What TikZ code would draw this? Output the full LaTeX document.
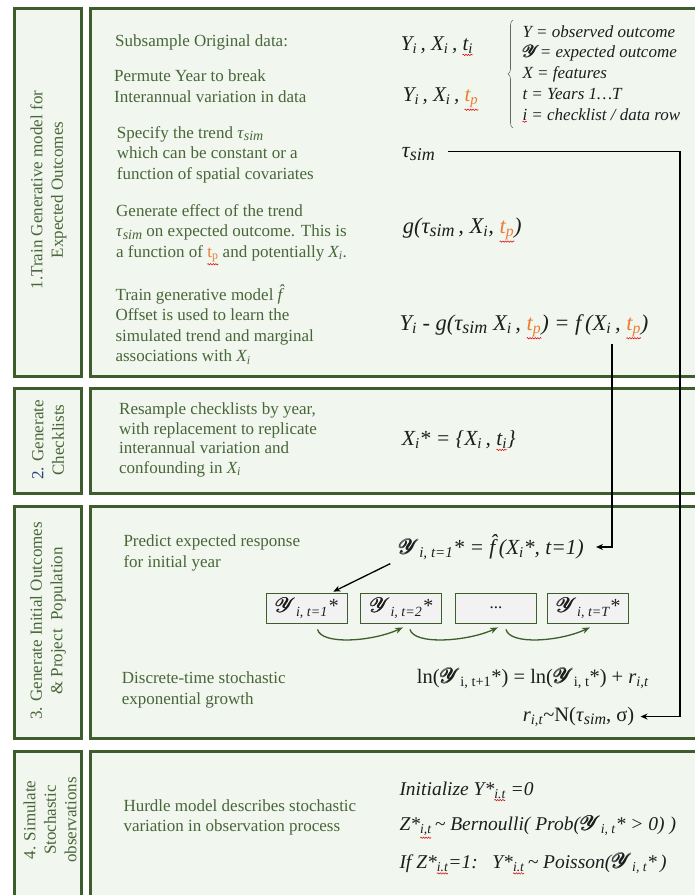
\documentclass[tikz,border=0pt]{standalone}
\usepackage{fontspec}
\setmainfont{Liberation Serif}
\usepackage{amsmath}
\usepackage{mathrsfs}
\usetikzlibrary{arrows.meta,decorations.pathreplacing,decorations.pathmorphing,calc}
\definecolor{bd}{RGB}{61,94,44}
\definecolor{tg}{RGB}{72,102,56}
\definecolor{fl}{RGB}{241,246,239}
\definecolor{tp}{RGB}{237,125,49}
\definecolor{nb}{RGB}{47,65,120}
\definecolor{ink}{RGB}{30,30,30}
\newsavebox\sqbox
\newcommand\dn[1]{\textsubscript{#1}}
\newcommand\SY{\ensuremath{\pmb{\mathscr{Y}}}}
\newcommand\sq[1]{\sbox\sqbox{#1}\leavevmode\rlap{\tikz[overlay,baseline=0pt]\draw[red!85!black,line width=0.5pt,decorate,decoration={snake,amplitude=0.7pt,segment length=2.6pt}] (0pt,{-\dp\sqbox-1.8pt}) -- (\wd\sqbox,{-\dp\sqbox-1.8pt});}\usebox\sqbox}
\newcommand\ts[1]{\textit{τ}\raisebox{-0.35ex}{\fontsize{#1}{#1}\selectfont\itshape sim}}
\newcommand\tp{\sq{\color{tp}t\dn{p}}}
\begin{document}
\begin{tikzpicture}[x=1pt,y=-1pt,
 panel/.style={draw=bd, line width=3pt, fill=fl},
 txt/.style={anchor=base west, inner sep=0pt, align=left, text=tg, font=\fontsize{17}{20.5}\selectfont},
 lab/.style={rotate=90, inner sep=0pt, align=center, text=tg, font=\fontsize{17}{20.5}\selectfont},
 fml/.style={anchor=base west, inner sep=0pt, text=ink, font=\fontsize{21}{24}\selectfont\itshape},
 leg/.style={anchor=base west, inner sep=0pt, align=left, text=ink, font=\fontsize{17}{20.7}\selectfont\itshape},
 ybox/.style={draw=bd, line width=0.8pt, fill=black!5, minimum width=81pt, minimum height=30pt, inner sep=0pt, text=ink, font=\fontsize{20}{23}\selectfont\itshape},
 conn/.style={draw=black, line width=1.3pt, -{Stealth[length=7pt,width=6pt]}},
 garr/.style={draw=bd, line width=1.3pt, -{Stealth[length=8pt,width=6pt]}}
]
\fill[white] (0,0) rectangle (695,895);
\useasboundingbox (0,0) rectangle (695,895);
\clip (0,0) rectangle (695,895);
% panels
\draw[panel] (14.5,8.5) rectangle (81.5,376.5);
\draw[panel] (90,8.5) rectangle (705,376.5);
\draw[panel] (14.5,388.5) rectangle (81.5,493.5);
\draw[panel] (90,388.5) rectangle (705,493.5);
\draw[panel] (14.5,506.5) rectangle (81.5,738);
\draw[panel] (90,506.5) rectangle (705,738);
\draw[panel] (14.5,751.5) rectangle (81.5,905);
\draw[panel] (90,751.5) rectangle (705,905);
% side labels
\node[lab] (l1) at (48.5,190) {1.Train Generative model for\\Expected Outcomes};
\node[lab] (l2) at (48,440) {\textcolor{nb}{2.} Generate\\Checklists};
\node[lab] (l3) at (48,621) {3. Generate Initial Outcomes\\\& Project\ \ Population};
\node[lab] (l4) at (50,820) {4. Simulate\\Stochastic\\observations};
% section texts (base = last line)
\node[txt] (t1) at (115,46) {Subsample Original data:};
\node[txt] (t2) at (114,102) {Permute Year to break\\Interannual variation in data};
\node[txt] (t3) at (116.7,179) {Specify the trend \ts{14}\\which can be constant or a\\function of spatial covariates};
\node[txt] (t4) at (116,257.3) {Generate effect of the trend\\\ts{14} on expected outcome. This is\\a function of \tp{} and potentially \textit{X\dn{i}}.};
\node[txt] (t5) at (115.3,361.7) {Train generative model \textit{\^{f}}\\Offset is used to learn the\\simulated trend and marginal\\associations with \textit{X\dn{i}}};
\node[txt, font=\fontsize{17}{19.5}\selectfont] (t6) at (119,473.3) {Resample checklists by year,\\with replacement to replicate\\interannual variation and\\confounding in \textit{X\dn{i}}};
\node[txt] (t7) at (123.3,567.3) {Predict expected response\\for initial year};
\node[txt] (t8) at (121.7,704.3) {Discrete-time stochastic\\exponential growth};
\node[txt] (t9) at (123.3,831.7) {Hurdle model describes stochastic\\variation in observation process};
% formulas section 1
\node[fml] (f1) at (400.7,50) {Y\dn{i}\,, X\dn{i}\,, \sq{t\dn{i}}};
\node[fml] (f2) at (402.7,101.7) {Y\dn{i}\,, X\dn{i}\,, \tp};
\node[fml,font=\fontsize{22}{24}\selectfont\itshape] (tau) at (401.7,157) {\ts{18}};
\node[fml, font=\fontsize{22.5}{24}\selectfont\itshape] (g) at (402.7,233.3) {g(\ts{18}\,, X\dn{i}, \tp)};
\node[fml, font=\fontsize{22.5}{24}\selectfont\itshape] (feq) at (399.3,330) {Y\dn{i} - g(\ts{18} X\dn{i}\,, \tp) = f\,(X\dn{i}\,, \tp)};
% legend
\node[leg] (legend) at (522.3,120) {Y = observed outcome\\\SY{}= expected outcome\\X = features\\t = Years 1…T\\\sq{i} = checklist / data row};
\draw[decorate, decoration={brace, amplitude=5pt, aspect=0.5}, line width=0.6pt, black!60] (513,128) -- (513,20);
% section 2
\node[fml, font=\fontsize{21.5}{24}\selectfont\itshape] (xs) at (401.7,445) {X\dn{i}* = \{X\dn{i}\,, \sq{t\dn{i}}\}};
% section 3
\node[fml, font=\fontsize{21.5}{24}\selectfont\itshape] (yeq) at (398.3,554) {\SY\dn{i, t=1}* = \^{f}\,(X\dn{i}*, t=1)};
\node[ybox] (b1) at (306.5,608) {\SY\dn{i, t=1}*};
\node[ybox] (b2) at (401,608) {\SY\dn{i, t=2}*};
\node[ybox, font=\fontsize{17}{20}\selectfont] (b3) at (496,608) {...};
\node[ybox] (b4) at (588,608) {\SY\dn{i, t=T}*};
\node[fml, font=\fontsize{20.5}{23}\selectfont] (lneq) at (416.7,683.3) {ln(\SY\dn{i, t+1}*) = ln(\SY\dn{i, t}*) + \textit{r}\dn{\textit{i,t}}};
\node[fml, font=\fontsize{20.5}{23}\selectfont] (req) at (522.7,721) {\textit{r}\dn{\textit{i,t}}\textasciitilde N(\ts{16}, σ)};
\draw[conn] ($(yeq.south west)+(-8,4)$) -- ($(b1.north east)+(-14,-1)$);
\draw[garr] ($(b1.south)+(11,6)$) .. controls +(4,16) and +(-30,14) .. ($(b2.south)+(2,4)$);
\draw[garr] ($(b2.south)+(9,6)$) .. controls +(4,16) and +(-30,14) .. ($(b3.south)+(2,4)$);
\draw[garr] ($(b3.south)+(10,6)$) .. controls +(4,16) and +(-30,14) .. ($(b4.south)+(2,4)$);
% section 4
\node[fml, font=\fontsize{19.5}{23}\selectfont\itshape] (s4a) at (399.3,795) {Initialize Y*\dn{\sq{i.t}} =0};
\node[fml, font=\fontsize{19.5}{23}\selectfont\itshape] (s4b) at (399.3,830.7) {Z*\dn{\sq{i,t}}\,\textasciitilde{} Bernoulli( Prob(\SY\dn{i, t}* > 0) )};
\node[fml, font=\fontsize{19.5}{23}\selectfont\itshape] (s4c) at (399.3,868.3) {If Z*\dn{\sq{i.t}}=1:\ \ \ Y*\dn{\sq{i.t}}\,\textasciitilde{} Poisson(\SY\dn{i, t}*\,)};
% connectors
\coordinate (vx) at (680,0);
\coordinate (fx) at (612,0);
\draw[conn] ($(tau.east)+(13,-2)$) -- ($(tau.east -| vx)+(0,-2)$) -- (req.east -| vx) -- ($(req.east)+(6,0)$);
\draw[conn] ($(feq.south -| fx)+(0,7)$) -- (yeq.east -| fx) -- ($(yeq.east)+(12,0)$);
\end{tikzpicture}
\end{document}
